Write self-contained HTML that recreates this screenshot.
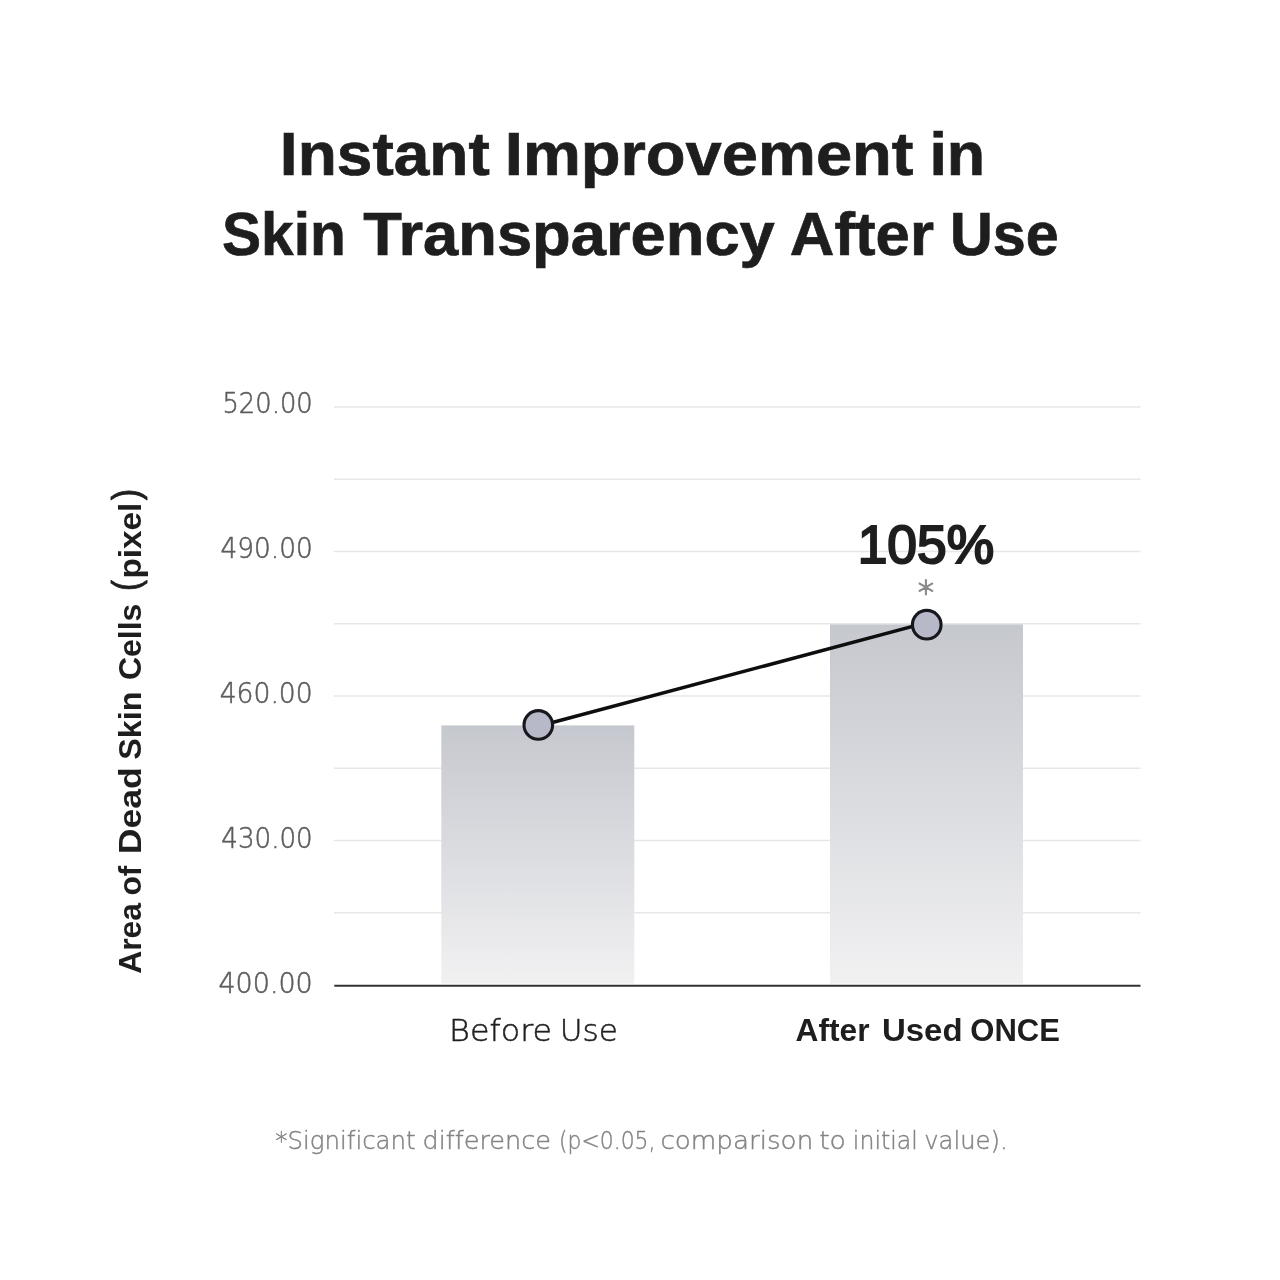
<!DOCTYPE html>
<html lang="en">
<head>
<meta charset="utf-8">
<title>Instant Improvement in Skin Transparency After Use</title>
<style>
  html, body { margin: 0; padding: 0; background: #ffffff; }
  body { width: 1280px; height: 1280px; overflow: hidden; position: relative; }
  svg { position: absolute; left: 0; top: 0; display: block; }
  text { font-variant-ligatures: none; font-kerning: normal; }
</style>
</head>
<body>
<svg width="1280" height="1280" viewBox="0 0 1280 1280">
  <defs>
    <linearGradient id="barg" x1="0" y1="0" x2="0" y2="1">
      <stop offset="0" stop-color="#c6c8cf"/>
      <stop offset="1" stop-color="#f1f1f2"/>
    </linearGradient>
  </defs>
  <rect x="0" y="0" width="1280" height="1280" fill="#ffffff"/>

  <!-- grid -->
  <g stroke="#e7e7e7" stroke-width="1.5">
    <line x1="334" y1="407" x2="1140.5" y2="407"/>
    <line x1="334" y1="479.3" x2="1140.5" y2="479.3"/>
    <line x1="334" y1="551.5" x2="1140.5" y2="551.5"/>
    <line x1="334" y1="623.8" x2="1140.5" y2="623.8"/>
    <line x1="334" y1="696" x2="1140.5" y2="696"/>
    <line x1="334" y1="768.3" x2="1140.5" y2="768.3"/>
    <line x1="334" y1="840.5" x2="1140.5" y2="840.5"/>
    <line x1="334" y1="912.8" x2="1140.5" y2="912.8"/>
  </g>

  <!-- bars -->
  <rect x="441.3" y="725.4" width="193" height="258.2" fill="url(#barg)"/>
  <rect x="830" y="624.4" width="193" height="359.2" fill="url(#barg)"/>

  <!-- axis -->
  <line x1="334.3" y1="985.8" x2="1140.5" y2="985.8" stroke="#333333" stroke-width="2"/>

  <!-- trend line -->
  <line x1="538.3" y1="726.3" x2="926.75" y2="622.6" stroke="#0e0e0e" stroke-width="3.5"/>
  <circle cx="538.3" cy="724.95" r="14.3" fill="#b7b9c8" stroke="#16181d" stroke-width="3.1"/>
  <circle cx="926.75" cy="624.7" r="14.3" fill="#b7b9c8" stroke="#16181d" stroke-width="3.1"/>

  <text x="918.0" y="602.8" font-size="31.8" font-family="'DejaVu Sans Light', 'Liberation Sans', sans-serif" fill="#8a8a8a" stroke="#8a8a8a" stroke-width="1.3">*</text>

  <text font-size="60.5" font-weight="700" font-family="'Liberation Sans', sans-serif" fill="#1e1e1e" stroke="#1e1e1e" stroke-width="0.7" stroke-linejoin="miter"><tspan x="279.87" y="174.65" textLength="209.94" lengthAdjust="spacingAndGlyphs">Instant</tspan> <tspan x="504.80" y="174.65" textLength="408.76" lengthAdjust="spacingAndGlyphs">Improvement</tspan> <tspan x="929.45" y="174.65" textLength="55.76" lengthAdjust="spacingAndGlyphs">in</tspan></text>
  <text font-size="60.5" font-weight="700" font-family="'Liberation Sans', sans-serif" fill="#1e1e1e" stroke="#1e1e1e" stroke-width="0.7" stroke-linejoin="miter"><tspan x="221.88" y="254.75" textLength="123.89" lengthAdjust="spacingAndGlyphs">Skin</tspan> <tspan x="363.35" y="254.75" textLength="411.43" lengthAdjust="spacingAndGlyphs">Transparency</tspan> <tspan x="789.83" y="254.75" textLength="144.13" lengthAdjust="spacingAndGlyphs">After</tspan> <tspan x="949.91" y="254.75" textLength="108.86" lengthAdjust="spacingAndGlyphs">Use</tspan></text>
  <text x="222.47" y="413.48" textLength="90.23" lengthAdjust="spacingAndGlyphs" font-size="28.6" font-weight="400" font-family="'DejaVu Sans Light', 'Liberation Sans', sans-serif" fill="#5c5c5c" stroke="#5c5c5c" stroke-width="0.55" stroke-linejoin="round">520.00</text>
  <text x="220.60" y="558.48" textLength="92.14" lengthAdjust="spacingAndGlyphs" font-size="28.6" font-weight="400" font-family="'DejaVu Sans Light', 'Liberation Sans', sans-serif" fill="#5c5c5c" stroke="#5c5c5c" stroke-width="0.55" stroke-linejoin="round">490.00</text>
  <text x="219.64" y="703.23" textLength="93.12" lengthAdjust="spacingAndGlyphs" font-size="28.6" font-weight="400" font-family="'DejaVu Sans Light', 'Liberation Sans', sans-serif" fill="#5c5c5c" stroke="#5c5c5c" stroke-width="0.55" stroke-linejoin="round">460.00</text>
  <text x="221.36" y="848.02" textLength="91.37" lengthAdjust="spacingAndGlyphs" font-size="28.6" font-weight="400" font-family="'DejaVu Sans Light', 'Liberation Sans', sans-serif" fill="#5c5c5c" stroke="#5c5c5c" stroke-width="0.55" stroke-linejoin="round">430.00</text>
  <text x="218.43" y="992.73" textLength="94.36" lengthAdjust="spacingAndGlyphs" font-size="28.6" font-weight="400" font-family="'DejaVu Sans Light', 'Liberation Sans', sans-serif" fill="#5c5c5c" stroke="#5c5c5c" stroke-width="0.55" stroke-linejoin="round">400.00</text>
  <text x="857.69" y="563.10" textLength="136.39" lengthAdjust="spacingAndGlyphs" font-size="54.5" font-weight="400" font-family="'Liberation Sans', sans-serif" fill="#1e1e1e" stroke="#1e1e1e" stroke-width="2.2" stroke-linejoin="miter">105%</text>
  <text font-size="30.5" font-weight="400" font-family="'DejaVu Sans Light', 'Liberation Sans', sans-serif" fill="#1f1f1f" stroke="#1f1f1f" stroke-width="0.5" stroke-linejoin="round"><tspan x="449.12" y="1040.50" textLength="102.97" lengthAdjust="spacingAndGlyphs">Before</tspan> <tspan x="559.68" y="1040.50" textLength="58.38" lengthAdjust="spacingAndGlyphs">Use</tspan></text>
  <text font-size="31" font-weight="700" font-family="'Liberation Sans', sans-serif" fill="#1e1e1e"><tspan x="795.50" y="1040.75" textLength="74.07" lengthAdjust="spacingAndGlyphs">After</tspan> <tspan x="881.94" y="1040.75" textLength="80.62" lengthAdjust="spacingAndGlyphs">Used</tspan> <tspan x="970.25" y="1040.75" textLength="89.68" lengthAdjust="spacingAndGlyphs">ONCE</tspan></text>
  <text font-size="25.5" font-weight="400" font-family="'DejaVu Sans Light', 'Liberation Sans', sans-serif" fill="#848484" stroke="#848484" stroke-width="0.45" stroke-linejoin="round"><tspan x="275.23" y="1148.78" textLength="140.51" lengthAdjust="spacingAndGlyphs">*Significant</tspan> <tspan x="422.47" y="1148.78" textLength="128.50" lengthAdjust="spacingAndGlyphs">difference</tspan> <tspan x="559.01" y="1148.78" textLength="96.43" lengthAdjust="spacingAndGlyphs">(p&lt;0.05,</tspan> <tspan x="660.45" y="1148.78" textLength="152.79" lengthAdjust="spacingAndGlyphs">comparison</tspan> <tspan x="819.18" y="1148.78" textLength="26.77" lengthAdjust="spacingAndGlyphs">to</tspan> <tspan x="852.87" y="1148.78" textLength="65.09" lengthAdjust="spacingAndGlyphs">initial</tspan> <tspan x="924.27" y="1148.78" textLength="83.46" lengthAdjust="spacingAndGlyphs">value).</tspan></text>
  <text transform="translate(140.5 973.8) rotate(-90)" font-size="31.7" font-weight="700" font-family="'Liberation Sans', sans-serif" fill="#1e1e1e"><tspan x="0.00" y="0.00" textLength="70.72" lengthAdjust="spacingAndGlyphs">Area</tspan> <tspan x="78.20" y="0.00" textLength="29.95" lengthAdjust="spacingAndGlyphs">of</tspan> <tspan x="119.55" y="0.00" textLength="87.07" lengthAdjust="spacingAndGlyphs">Dead</tspan> <tspan x="214.00" y="0.00" textLength="68.18" lengthAdjust="spacingAndGlyphs">Skin</tspan> <tspan x="293.79" y="0.00" textLength="76.44" lengthAdjust="spacingAndGlyphs">Cells</tspan> <tspan x="382.82" y="-1.90" textLength="10.93" lengthAdjust="spacingAndGlyphs" font-size="38" font-weight="400" font-family="'Liberation Sans', sans-serif" fill="#1e1e1e" stroke="#1e1e1e" stroke-width="0.9" stroke-linejoin="round">(</tspan><tspan x="395.20" y="0.00" textLength="75.90" lengthAdjust="spacingAndGlyphs">pixel</tspan><tspan x="473.65" y="-1.90" textLength="11.39" lengthAdjust="spacingAndGlyphs" font-size="38" font-weight="400" font-family="'Liberation Sans', sans-serif" fill="#1e1e1e" stroke="#1e1e1e" stroke-width="0.9" stroke-linejoin="round">)</tspan></text>
</svg>
</body>
</html>
